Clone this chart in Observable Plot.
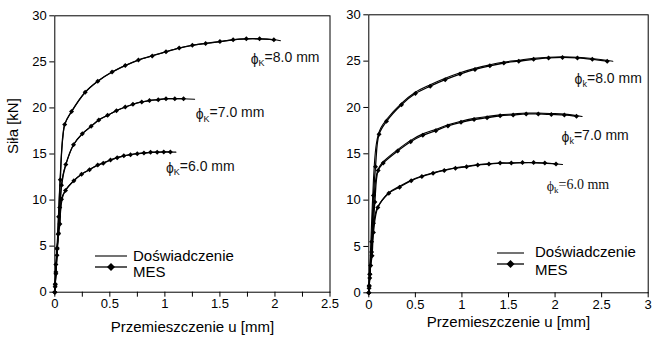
<!DOCTYPE html>
<html><head><meta charset="utf-8">
<script src="https://cdn.jsdelivr.net/npm/d3@7"></script>
<script src="https://cdn.jsdelivr.net/npm/@observablehq/plot@0.6"></script>
<style>
body{margin:0;background:#fff;}
#wrap{position:relative;width:662px;height:341px;overflow:hidden;font-family:'Liberation Sans',Arial,sans-serif;}
#wrap svg{position:absolute;top:0;overflow:visible;}
</style></head><body><div id="wrap"></div>
<script>
// ---------- data (u [mm], F [kN]) ----------
// left panel
const leftMes8 = [[0,0],[0.004,0.9],[0.01,2.2],[0.022,4.8],[0.035,8.2],[0.05,12.2],[0.09,18.2],[0.152,19.6],[0.276,21.7],[0.39,22.9],[0.52,23.9],[0.64,24.6],[0.76,25.2],[0.885,25.65],[1.01,26.1],[1.13,26.5],[1.25,26.8],[1.37,27.0],[1.50,27.2],[1.62,27.4],[1.74,27.5],[1.86,27.5],[1.99,27.4]];
const leftExp8 = [[0,0],[0.01,2.2],[0.02,4.6],[0.03,7.5],[0.04,10.3],[0.05,12.8],[0.06,14.9],[0.075,17.0],[0.09,18.2],[0.152,19.6],[0.276,21.7],[0.39,22.9],[0.52,23.9],[0.64,24.6],[0.76,25.2],[0.885,25.65],[1.01,26.1],[1.13,26.5],[1.25,26.8],[1.37,27.0],[1.50,27.2],[1.62,27.4],[1.74,27.5],[1.86,27.5],[1.99,27.4],[2.05,27.3]];
const leftMes7 = [[0,0],[0.004,0.8],[0.01,2.0],[0.02,4.0],[0.03,6.3],[0.045,9.2],[0.061,11.6],[0.10,13.85],[0.17,16.0],[0.25,17.2],[0.33,18.0],[0.40,18.7],[0.48,19.2],[0.56,19.7],[0.64,20.1],[0.71,20.4],[0.79,20.65],[0.86,20.8],[0.94,20.9],[1.01,21.0],[1.09,21.0],[1.17,21.0]];
const leftExp7 = [[0,0],[0.01,2.0],[0.02,4.0],[0.03,6.2],[0.045,9.0],[0.06,11.4],[0.075,12.8],[0.10,13.85],[0.17,16.0],[0.25,17.2],[0.33,18.0],[0.40,18.7],[0.48,19.2],[0.56,19.7],[0.64,20.1],[0.71,20.4],[0.79,20.65],[0.86,20.8],[0.94,20.9],[1.01,21.0],[1.09,21.0],[1.17,21.0],[1.27,20.95]];
const leftMes6 = [[0,0],[0.003,0.6],[0.01,3.0],[0.021,4.7],[0.035,6.4],[0.046,7.4],[0.061,10.1],[0.097,11.05],[0.173,12.1],[0.243,12.8],[0.315,13.3],[0.39,13.8],[0.44,14.0],[0.506,14.35],[0.567,14.6],[0.627,14.8],[0.688,14.93],[0.749,15.04],[0.81,15.1],[0.87,15.18],[0.93,15.2],[0.99,15.22],[1.05,15.22]];
const leftExp6 = [[0,0],[0.01,2.5],[0.02,4.6],[0.03,6.0],[0.045,7.6],[0.06,9.6],[0.075,10.5],[0.097,11.05],[0.173,12.1],[0.243,12.8],[0.315,13.3],[0.39,13.8],[0.506,14.35],[0.627,14.8],[0.749,15.04],[0.87,15.18],[0.99,15.22],[1.10,15.2]];
// right panel
const rightMes8 = [[0,0],[0.004,0.8],[0.01,2.0],[0.03,5.5],[0.05,10.5],[0.072,13.6],[0.11,17.1],[0.19,18.5],[0.351,20.3],[0.50,21.5],[0.66,22.3],[0.82,23.0],[0.98,23.6],[1.14,24.1],[1.30,24.5],[1.45,24.8],[1.61,25.0],[1.77,25.2],[1.93,25.35],[2.08,25.4],[2.24,25.35],[2.40,25.2],[2.56,25.0]];
const rightExp8 = [[0,0],[0.008,2.0],[0.02,5.0],[0.035,8.8],[0.05,12.2],[0.065,14.6],[0.08,16.0],[0.1,17.0],[0.13,17.8],[0.19,18.7],[0.35,20.45],[0.5,21.65],[0.66,22.45],[0.82,23.15],[0.98,23.75],[1.14,24.22],[1.3,24.6],[1.45,24.9],[1.61,25.1],[1.77,25.3],[1.93,25.42],[2.08,25.47],[2.24,25.42],[2.4,25.28],[2.62,24.98]];
const rightMes7 = [[0,0],[0.004,0.7],[0.012,2.0],[0.03,4.4],[0.05,7.5],[0.065,9.8],[0.1,13.2],[0.155,14.0],[0.31,15.3],[0.45,16.3],[0.58,17.0],[0.72,17.5],[0.85,18.0],[0.99,18.4],[1.13,18.7],[1.27,18.9],[1.41,19.1],[1.55,19.2],[1.69,19.3],[1.82,19.3],[1.96,19.25],[2.10,19.2],[2.23,19.05]];
const rightExp7 = [[0,0],[0.01,2.0],[0.025,4.4],[0.04,7.3],[0.055,9.8],[0.07,11.9],[0.09,13.0],[0.12,13.7],[0.155,14.15],[0.31,15.45],[0.45,16.45],[0.58,17.15],[0.72,17.65],[0.85,18.12],[0.99,18.52],[1.13,18.82],[1.27,19.02],[1.41,19.2],[1.55,19.3],[1.69,19.4],[1.82,19.4],[1.96,19.35],[2.1,19.28],[2.29,19.02]];
const rightMes6 = [[0,0],[0.003,0.5],[0.01,1.6],[0.02,2.95],[0.035,4.0],[0.05,6.5],[0.097,9.2],[0.215,10.75],[0.33,11.4],[0.455,12.1],[0.57,12.55],[0.69,12.9],[0.81,13.2],[0.93,13.45],[1.05,13.6],[1.17,13.8],[1.29,13.9],[1.41,14.0],[1.53,14.0],[1.65,14.05],[1.77,14.05],[1.89,14.0],[2.01,13.9]];
const rightExp6 = [[0,0],[0.01,1.8],[0.02,3.3],[0.035,5.0],[0.05,7.0],[0.065,8.3],[0.08,8.9],[0.097,9.3],[0.215,10.8],[0.33,11.5],[0.455,12.15],[0.57,12.6],[0.69,12.95],[0.81,13.25],[0.93,13.5],[1.05,13.65],[1.17,13.82],[1.29,13.92],[1.41,14.0],[1.53,14.02],[1.65,14.05],[1.77,14.05],[1.89,14.0],[2.08,13.85]];

// curve annotations (data units)
const leftLabels = [
  {u:1.78, F:25.3, sub:"K", value:"=8.0 mm"},
  {u:1.28, F:19.3, sub:"K", value:"=7.0 mm"},
  {u:1.01, F:13.45, sub:"K", value:"=6.0 mm"}
];
const rightLabels = [
  {u:2.21, F:23.0, sub:"k", value:"=8.0 mm", serif:false},
  {u:2.07, F:16.8, sub:"k", value:"=7.0 mm", serif:false},
  {u:1.91, F:11.5, sub:"k", value:"=6.0 mm", serif:true}
];

// axes
const yTicks = [0,5,10,15,20,25,30];
const leftXTicks = [0,0.25,0.5,0.75,1,1.25,1.5,1.75,2,2.25,2.5];
const rightXTicks = [0,0.5,1,1.5,2,2.5,3];
const xTitle = "Przemieszczenie u [mm]";
const yTitle = "Siła [kN]";
const legendNames = ["Doświadczenie", "MES"];

// ---------- drawing ----------
const sans = "'Liberation Sans', Arial, sans-serif";
const serif = "'Liberation Serif', 'Times New Roman', serif";
const rows = (arr, s) => arr.map(([u, F]) => ({u, F, s}));
const diamond = {draw(ctx, size){ const r = Math.sqrt(size / Math.PI); ctx.moveTo(0,-r); ctx.lineTo(r,0); ctx.lineTo(0,r); ctx.lineTo(-r,0); ctx.closePath(); }};

function panel({width, ml, mr, mt, mb, xDomain, xTicks, xFmt, mes, exp, labels, showY, xTitleDy}) {
  const mesRows = mes.flatMap((a, i) => rows(a, i));
  const expRows = exp.flatMap((a, i) => rows(a, i));
  const svg = Plot.plot({
    width, height: 341,
    marginLeft: ml, marginRight: mr, marginTop: mt, marginBottom: mb,
    style: {fontFamily: sans, fontSize: "13px", color: "#000", background: "transparent", overflow: "visible"},
    x: {domain: xDomain, ticks: xTicks, tickFormat: xFmt, tickSize: 5, tickPadding: 2, label: null},
    y: {domain: [0, 30], ticks: yTicks, tickSize: 5, tickPadding: 3, label: null},
    marks: [
      Plot.frame({stroke: "#000", strokeWidth: 1}),
      Plot.line(expRows, {x: "u", y: "F", z: "s", curve: "catmull-rom", stroke: "#000", strokeWidth: 1.1}),
      Plot.line(mesRows, {x: "u", y: "F", z: "s", curve: "catmull-rom", stroke: "#000", strokeWidth: 1.3}),
      Plot.dot(mesRows, {x: "u", y: "F", symbol: diamond, r: 2.5, fill: "#000", stroke: "none"}),
      Plot.text(labels.filter(d => !d.serif), {x: "u", y: "F", text: d => "ϕ" + d.sub + d.value, textAnchor: "start", fontSize: 14, fill: "#111", fontFamily: sans}),
      Plot.text(labels.filter(d => d.serif), {x: "u", y: "F", text: d => "ϕ" + d.sub + d.value, textAnchor: "start", fontSize: 14, fill: "#111", fontFamily: serif}),
      Plot.text([xTitle], {text: d => d, frameAnchor: "bottom", lineAnchor: "middle", dy: xTitleDy, fontSize: 15, fill: "#000"}),
      showY ? Plot.text([yTitle], {text: d => d, frameAnchor: "left", rotate: -90, dx: -42, fontSize: 15, fill: "#000"}) : null
    ]
  });
  // subscripts
  d3.select(svg).selectAll("text").each(function() {
    const m = this.textContent.match(/^ϕ(.)(=.*)$/);
    if (!m) return;
    const t = d3.select(this);
    t.text(null);
    t.append("tspan").text("ϕ");
    t.append("tspan").attr("font-size", 9).attr("dy", "0.3em").text(m[1]);
    t.append("tspan").attr("dy", "-0.3em").text(m[2]);
  });
  return svg;
}

const wrap = document.getElementById("wrap");
const left = panel({width: 331, ml: 54.3, mr: 1.5, mt: 15.3, mb: 49.3, xDomain: [0, 2.5], xTicks: leftXTicks,
  xFmt: d => (Math.abs(d * 2 - Math.round(d * 2)) < 1e-9 ? String(d) : ""),
  mes: [leftMes8, leftMes7, leftMes6], exp: [leftExp8, leftExp7, leftExp6], labels: leftLabels, showY: true, xTitleDy: 35});
left.style.left = "0px";
const right = panel({width: 331, ml: 37.3, mr: 14.3, mt: 14.3, mb: 48.7, xDomain: [0, 3], xTicks: rightXTicks,
  xFmt: d => String(d),
  mes: [rightMes8, rightMes7, rightMes6], exp: [rightExp8, rightExp7, rightExp6], labels: rightLabels, showY: false, xTitleDy: 29});
right.style.left = "331px";
wrap.appendChild(left);
wrap.appendChild(right);

// legends
const lg = d3.select(wrap).append("svg").attr("width", 662).attr("height", 341).style("left", "0px")
  .style("font-family", sans).style("font-size", "15px");
function legend(x0, x1, y1, y2, tx, ty1, ty2) {
  lg.append("line").attr("x1", x0).attr("x2", x1).attr("y1", y1).attr("y2", y1).attr("stroke", "#000").attr("stroke-width", 1.1);
  lg.append("line").attr("x1", x0).attr("x2", x1).attr("y1", y2).attr("y2", y2).attr("stroke", "#000").attr("stroke-width", 1.3);
  const cx = (x0 + x1) / 2, r = 4;
  lg.append("path").attr("d", `M${cx},${y2 - r}L${cx + r},${y2}L${cx},${y2 + r}L${cx - r},${y2}Z`).attr("fill", "#000");
  lg.append("text").attr("x", tx).attr("y", ty1).attr("dy", "0.35em").text(legendNames[0]);
  lg.append("text").attr("x", tx).attr("y", ty2).attr("dy", "0.35em").text(legendNames[1]);
}
legend(95, 127, 256, 267, 133, 256, 272);
legend(497, 524, 253, 264, 535, 252, 270);
</script></body></html>
